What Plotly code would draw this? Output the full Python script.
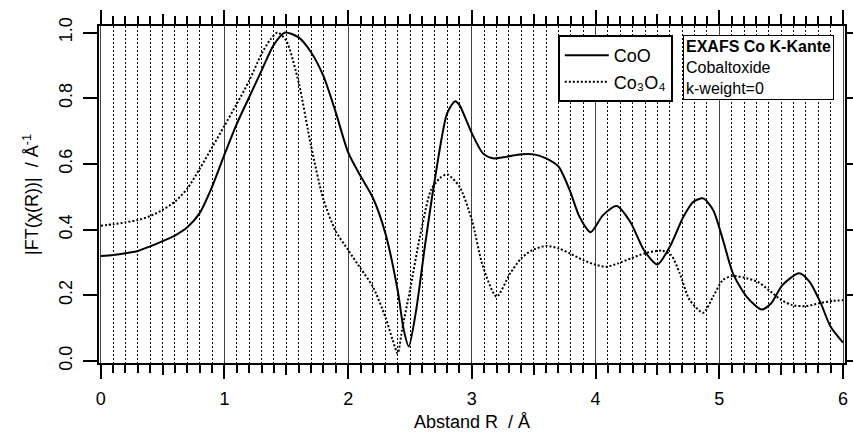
import plotly.graph_objects as go

# Fourier-transform magnitudes |FT(chi(R))| of the Co K-edge EXAFS, k-weight 0
r_coo = [0.0, 0.1, 0.2, 0.3, 0.4, 0.5, 0.6, 0.7, 0.8, 0.9, 1.0, 1.1, 1.2, 1.3,
         1.4, 1.49, 1.6, 1.7, 1.8, 1.9, 2.0, 2.1, 2.2, 2.3, 2.4, 2.45, 2.49,
         2.55, 2.62, 2.7, 2.8, 2.865, 2.9, 3.0, 3.09, 3.17, 3.28, 3.4, 3.5,
         3.6, 3.7, 3.79, 3.87, 3.96, 4.06, 4.17, 4.28, 4.39, 4.5, 4.6, 4.71,
         4.79, 4.87, 4.95, 5.03, 5.11, 5.22, 5.34, 5.42, 5.51, 5.645, 5.73,
         5.82, 5.9, 6.0]
ft_coo = [0.320, 0.323, 0.328, 0.335, 0.349, 0.365, 0.382, 0.407, 0.450, 0.530,
          0.628, 0.722, 0.803, 0.884, 0.963, 1.000, 0.985, 0.940, 0.868, 0.757,
          0.635, 0.563, 0.497, 0.390, 0.216, 0.094, 0.044, 0.155, 0.348, 0.551,
          0.754, 0.791, 0.779, 0.693, 0.632, 0.617, 0.622, 0.629, 0.629, 0.617,
          0.592, 0.521, 0.439, 0.392, 0.444, 0.472, 0.424, 0.338, 0.294, 0.348,
          0.439, 0.485, 0.495, 0.460, 0.368, 0.267, 0.196, 0.157, 0.176, 0.231,
          0.267, 0.241, 0.176, 0.104, 0.056]

r_co3o4 = [0.0, 0.1, 0.2, 0.3, 0.4, 0.5, 0.6, 0.7, 0.8, 0.9, 1.0, 1.1, 1.2, 1.3,
           1.37, 1.43, 1.5, 1.6, 1.7, 1.8, 1.9, 2.0, 2.1, 2.2, 2.3, 2.36, 2.40,
           2.44, 2.5, 2.58, 2.67, 2.74, 2.80, 2.9, 3.0, 3.09, 3.2, 3.31, 3.4,
           3.49, 3.6, 3.7, 3.79, 3.9, 4.0, 4.09, 4.18, 4.29, 4.4, 4.535, 4.61,
           4.68, 4.76, 4.87, 4.95, 5.03, 5.11, 5.22, 5.31, 5.4, 5.5, 5.59, 5.7,
           5.81, 5.92, 6.0]
ft_co3o4 = [0.412, 0.416, 0.422, 0.429, 0.441, 0.460, 0.485, 0.525, 0.585, 0.650,
            0.716, 0.783, 0.853, 0.935, 0.978, 1.000, 0.975, 0.848, 0.655, 0.492,
            0.395, 0.338, 0.282, 0.226, 0.135, 0.064, 0.023, 0.104, 0.216, 0.378,
            0.521, 0.556, 0.568, 0.531, 0.429, 0.287, 0.196, 0.267, 0.313, 0.338,
            0.350, 0.343, 0.328, 0.307, 0.293, 0.287, 0.297, 0.313, 0.328, 0.336,
            0.323, 0.267, 0.186, 0.147, 0.196, 0.247, 0.259, 0.252, 0.241, 0.216,
            0.186, 0.170, 0.167, 0.176, 0.183, 0.185]

x_major = [0, 1, 2, 3, 4, 5, 6]
x_half = [0.5, 1.5, 2.5, 3.5, 4.5, 5.5]
y_ticks = [0.0, 0.2, 0.4, 0.6, 0.8, 1.0]
y_ticktext = ["0.0", "0.2", "0.4", "0.6", "0.8", "1.0"]

FONT = "Liberation Sans, Arial, sans-serif"
X_RANGE = [-0.0137, 6.016]
Y_RANGE = [-0.0061, 1.0198]

fig = go.Figure()
fig.add_trace(go.Scatter(
    x=r_coo, y=ft_coo, name="CoO", mode="lines",
    line=dict(color="black", width=2, shape="spline", smoothing=0.7),
))
fig.add_trace(go.Scatter(
    x=r_co3o4, y=ft_co3o4, name="Co₃O₄", mode="lines",
    line=dict(color="black", width=2, dash="2px,2px", shape="spline", smoothing=0.7),
))

fig.update_layout(
    width=853, height=437,
    margin=dict(l=99, r=8, t=26, b=74, autoexpand=False),
    paper_bgcolor="white", plot_bgcolor="white",
    font=dict(family=FONT, size=18, color="black"),
    showlegend=True,
    legend=dict(
        x=0.615, y=0.973, xanchor="left", yanchor="top",
        bgcolor="white", bordercolor="black", borderwidth=2,
        font=dict(size=18), tracegroupgap=0, itemwidth=44,
    ),
    xaxis=dict(
        range=X_RANGE, tickvals=x_major, ticktext=[str(v) for v in x_major],
        automargin=False,
        showline=True, linecolor="black", linewidth=2, mirror="ticks",
        ticks="outside", ticklen=14, tickwidth=2, tickcolor="black",
        ticklabelstandoff=4,
        showgrid=True, gridcolor="#444444", gridwidth=1,
        zeroline=False,
        minor=dict(dtick=0.1, tick0=0, ticks="outside", ticklen=8, tickwidth=2,
                   tickcolor="black", showgrid=True, gridcolor="black",
                   gridwidth=1, griddash="2px,2px"),
        title=dict(text="Abstand R  / Å", standoff=8, font=dict(size=18)),
        tickfont=dict(size=18),
    ),
    xaxis2=dict(
        range=X_RANGE, overlaying="x", matches="x", side="bottom",
        automargin=False,
        tickvals=x_half, showticklabels=False,
        ticks="outside", ticklen=11, tickwidth=2, tickcolor="black",
        mirror="ticks", showline=False, showgrid=False, zeroline=False,
    ),
    yaxis=dict(
        range=Y_RANGE, tickvals=y_ticks, ticktext=y_ticktext, tickangle=-90,
        automargin=False,
        showline=True, linecolor="black", linewidth=2, mirror="ticks",
        ticks="outside", ticklen=14, tickwidth=2, tickcolor="black",
        ticklabelstandoff=4,
        showgrid=False, zeroline=False,
        title=dict(text="|FT(χ(R))|  / Å<sup>-1</sup>", standoff=12,
                   font=dict(size=18)),
        tickfont=dict(size=18),
    ),
)

# invisible trace to activate the half-step tick axis
fig.add_trace(go.Scatter(x=[0, 6], y=[0, 0], xaxis="x2", mode="none",
                         showlegend=False, hoverinfo="skip"))

fig.add_annotation(
    xref="paper", yref="paper", x=0.783, y=0.973,
    xanchor="left", yanchor="top", align="left", showarrow=False,
    text="<b>EXAFS Co K-Kante</b><br>Cobaltoxide<br>k-weight=0",
    font=dict(family=FONT, size=16, color="black"),
    bgcolor="white", bordercolor="black", borderwidth=1, borderpad=2,
)

fig.write_html("out.html")
